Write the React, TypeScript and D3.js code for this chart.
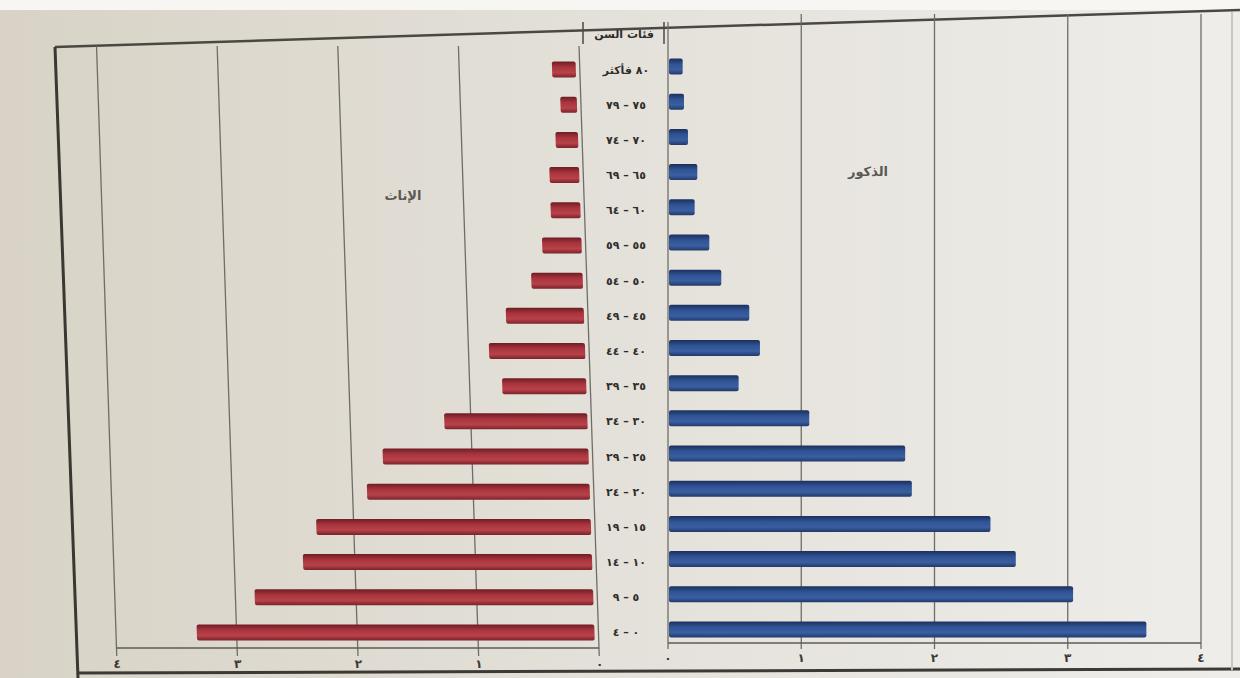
import React from "react";
import * as d3 from "d3";

const ageGroups = [
  "٠ – ٤", "٥ – ٩", "١٠ – ١٤", "١٥ – ١٩", "٢٠ – ٢٤", "٢٥ – ٢٩", "٣٠ – ٣٤",
  "٣٥ – ٣٩", "٤٠ – ٤٤", "٤٥ – ٤٩", "٥٠ – ٥٤", "٥٥ – ٥٩", "٦٠ – ٦٤",
  "٦٥ – ٦٩", "٧٠ – ٧٤", "٧٥ – ٧٩", "٨٠ فأكثر",
];
const females = [3.33, 2.84, 2.43, 2.31, 1.88, 1.74, 1.22, 0.73, 0.83, 0.68, 0.46, 0.36, 0.28, 0.28, 0.22, 0.17, 0.23];
const males = [3.59, 3.04, 2.61, 2.42, 1.83, 1.78, 1.06, 0.53, 0.69, 0.61, 0.4, 0.31, 0.2, 0.22, 0.15, 0.12, 0.11];
const ticks = [0, 1, 2, 3, 4];
const tickLabels = ["٠", "١", "٢", "٣", "٤"];
const femaleLabel = "الإناث";
const maleLabel = "الذكور";
const headerLabel = "فئات السن";

const W = 1240;
const H = 678;
const SKEW = 1.9; // degrees, photo keystone of the left panel
const k = Math.tan((SKEW * Math.PI) / 180);

export default function App() {
  const y = d3
    .scaleBand<string>()
    .domain([...ageGroups].reverse())
    .range([52, 650])
    .paddingInner(0.5)
    .paddingOuter(0.25);
  const bw = 16;
  const xL = d3.scaleLinear().domain([0, 4]).range([577.5, 95]);
  const xR = d3.scaleLinear().domain([0, 4]).range([668, 1201]);
  const axisYL = 648;
  const axisYR = 643;
  const top = 46;
  const center = (a: string) => (y(a) as number) + y.bandwidth() / 2;
  const font = "'DejaVu Sans', sans-serif";

  return (
    <svg width={W} height={H} style={{ position: "absolute", left: 0, top: 0 }}>
      <defs>
        <linearGradient id="bg" x1="0" x2="1" y1="0" y2="0">
          <stop offset="0" stopColor="#d8d3c6" />
          <stop offset="0.5" stopColor="#e4e1da" />
          <stop offset="1" stopColor="#efedea" />
        </linearGradient>
        <linearGradient id="fem" x1="0" x2="0" y1="0" y2="1">
          <stop offset="0" stopColor="#6e1d22" />
          <stop offset="0.35" stopColor="#a8343d" />
          <stop offset="0.7" stopColor="#b8424a" />
          <stop offset="1" stopColor="#7a2228" />
        </linearGradient>
        <linearGradient id="mal" x1="0" x2="0" y1="0" y2="1">
          <stop offset="0" stopColor="#1c2f5c" />
          <stop offset="0.35" stopColor="#2f5394" />
          <stop offset="0.7" stopColor="#3a5fa0" />
          <stop offset="1" stopColor="#22396b" />
        </linearGradient>
      </defs>
      <rect x={0} y={0} width={W} height={H} fill="url(#bg)" />
      <rect x={0} y={0} width={W} height={10} fill="#f7f6f3" />
      {/* photo frame */}
      <line x1={55} y1={47} x2={1240} y2={10} stroke="#4a4843" strokeWidth={2.5} />
      <line x1={55} y1={47} x2={78} y2={678} stroke="#3a3833" strokeWidth={3} />
      <line x1={78} y1={673} x2={1240} y2={669} stroke="#3c3a36" strokeWidth={3} />
      <line x1={1232} y1={12} x2={1232} y2={670} stroke="#c9c7c2" strokeWidth={2} />

      {/* left panel (females) */}
      <g transform={`skewX(${SKEW})`}>
        {ticks.map((t) => (
          <line key={"gl" + t} x1={xL(t)} x2={xL(t)} y1={top} y2={axisYL + 8}
            stroke="#6f6d68" strokeWidth={1.3} />
        ))}
        <line x1={xL(4)} x2={xL(0)} y1={axisYL} y2={axisYL} stroke="#5d5b56" strokeWidth={1.5} />
        {ageGroups.map((a, i) => (
          <rect key={"f" + i} x={xL(females[i])} width={xL(0) - xL(females[i]) - 4}
            y={center(a) - bw / 2} height={bw} rx={2} fill="url(#fem)" />
        ))}
      </g>
      {ticks.map((t, i) => (
        <text key={"tl" + t} x={xL(t) + k * 668} y={668} textAnchor="middle"
          fontFamily={font} fontSize={12} fontWeight="bold" fill="#3a3833">
          {tickLabels[i]}
        </text>
      ))}

      {/* right panel (males) */}
      {ticks.map((t) => (
        <line key={"gr" + t} x1={xR(t)} x2={xR(t)} y1={t === 0 ? 22 : 14} y2={axisYR + 6}
          stroke="#6f6d68" strokeWidth={1.3} />
      ))}
      <line x1={xR(0)} x2={xR(4)} y1={axisYR} y2={axisYR} stroke="#5d5b56" strokeWidth={1.5} />
      {ageGroups.map((a, i) => (
        <rect key={"m" + i} x={xR(0) + 1} width={xR(males[i]) - xR(0) - 1}
          y={center(a) - bw / 2 - 3} height={bw} rx={2} fill="url(#mal)" />
      ))}
      {ticks.map((t, i) => (
        <text key={"tr" + t} x={xR(t)} y={662} textAnchor="middle"
          fontFamily={font} fontSize={12} fontWeight="bold" fill="#3a3833">
          {tickLabels[i]}
        </text>
      ))}

      {/* central age labels */}
      <line x1={583} x2={583} y1={22} y2={44} stroke="#4a4843" strokeWidth={1.5} />
      <line x1={664} x2={664} y1={22} y2={44} stroke="#4a4843" strokeWidth={1.5} />
      <text x={624} y={38} textAnchor="middle" direction="rtl" fontFamily={font}
        fontSize={11} fontWeight="bold" fill="#2f2d2a">{headerLabel}</text>
      {ageGroups.map((a) => (
        <text key={"l" + a} x={626} y={center(a) + 4} textAnchor="middle" direction="rtl"
          fontFamily={font} fontSize={11} fontWeight="bold" fill="#2f2d2a">{a}</text>
      ))}

      <text x={403} y={200} textAnchor="middle" direction="rtl" fontFamily={font}
        fontSize={13} fontWeight="bold" fill="#5a5853">{femaleLabel}</text>
      <text x={868} y={176} textAnchor="middle" direction="rtl" fontFamily={font}
        fontSize={13} fontWeight="bold" fill="#5a5853">{maleLabel}</text>
    </svg>
  );
}
